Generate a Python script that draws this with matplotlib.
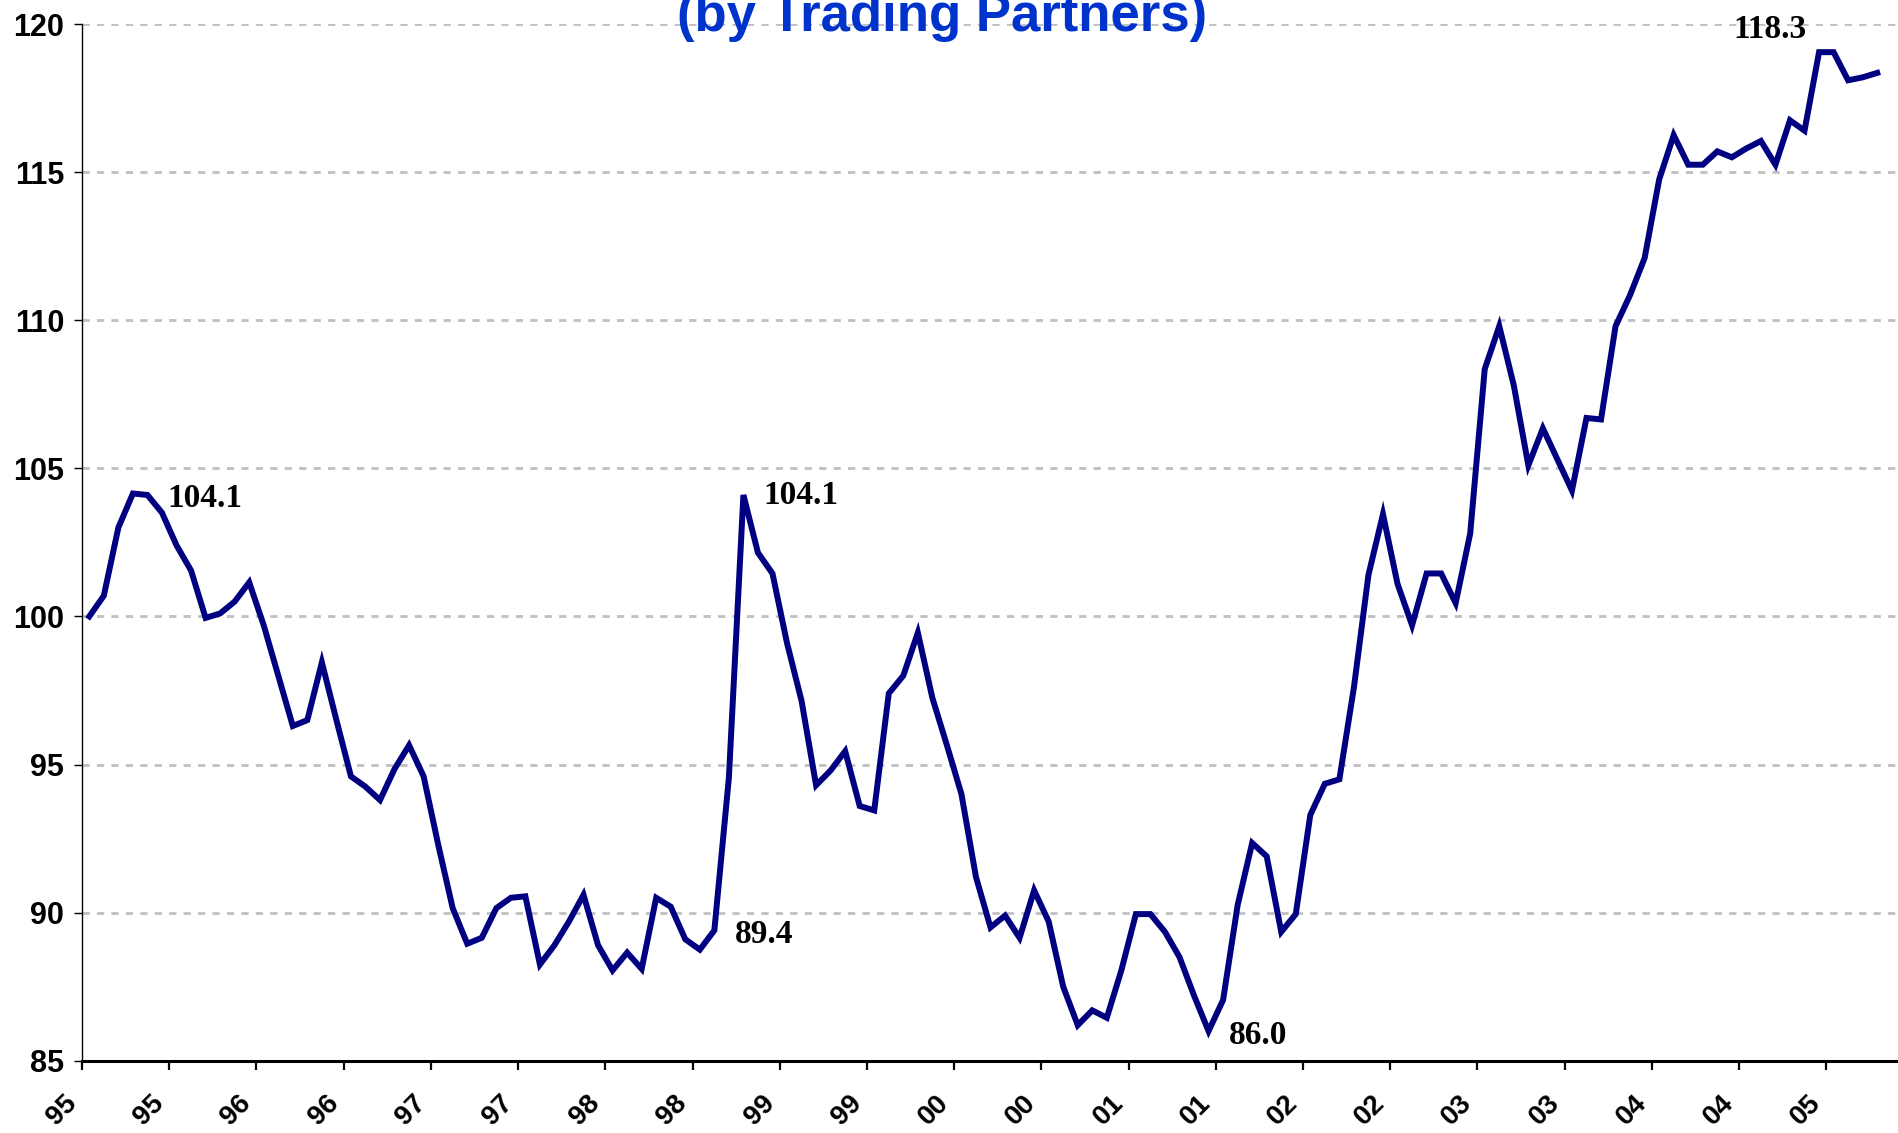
import numpy as np
import matplotlib.pyplot as plt

# monthly index values, Jan 1995 .. Apr 2005
values = [100.0, 100.7, 103.0, 104.15, 104.1, 103.5, 102.4, 101.55, 99.95, 100.1,
          100.5, 101.15, 99.7, 98.0, 96.3, 96.5, 98.45, 96.5, 94.6, 94.25,
          93.8, 94.85, 95.65, 94.6, 92.3, 90.15, 88.95, 89.15, 90.15, 90.5,
          90.55, 88.25, 88.9, 89.7, 90.6, 88.9, 88.05, 88.65, 88.1, 90.5,
          90.2, 89.1, 88.75, 89.4, 94.55, 104.1, 102.15, 101.45, 99.1, 97.15,
          94.3, 94.8, 95.45, 93.6, 93.45, 97.4, 98.0, 99.45, 97.25, 95.65,
          94.0, 91.2, 89.5, 89.9, 89.15, 90.75, 89.7, 87.5, 86.2, 86.7,
          86.45, 88.05, 89.95, 89.95, 89.35, 88.5, 87.2, 86.0, 87.05, 90.25,
          92.35, 91.9, 89.35, 89.95, 93.3, 94.35, 94.5, 97.6, 101.4, 103.45,
          101.1, 99.7, 101.45, 101.45, 100.45, 102.8, 108.35, 109.8, 107.8, 105.1,
          106.35, 105.3, 104.25, 106.7, 106.65, 109.8, 110.85, 112.1, 114.75, 116.25,
          115.25, 115.25, 115.7, 115.5, 115.8, 116.05, 115.25, 116.75, 116.4, 119.05,
          119.05, 118.1, 118.2, 118.35]

xlabels = ['95', '95', '96', '96', '97', '97', '98', '98', '99', '99', '00',
           '00', '01', '01', '02', '02', '03', '03', '04', '04', '05']

# annotated values and where they sit (category, value)
ann_text = ['104.1', '104.1', '89.4', '86.0', '118.3']
ann_x = [5.85, 46.87, 44.88, 78.93, 113.6]
ann_y = [103.70, 103.78, 88.99, 85.58, 119.52]

fig = plt.figure(figsize=(18.99, 11.33), dpi=100)
ax = fig.add_axes([0.0432, 0.0638, 0.9568, 0.9150])

x = np.arange(len(values)) + 0.5
ax.plot(x, values, color='#000080', lw=4.3, solid_joinstyle='miter', zorder=3)

ax.set_xlim(0, 125)
ax.set_ylim(85, 120)
ax.set_yticks(np.arange(85, 121, 5))
ax.yaxis.grid(True, color='#c0c0c0', lw=2.0, linestyle=(0, (2.6, 2.6)), zorder=1)
ax.set_axisbelow(True)

# tick marks at category boundaries, labels rotated
ax.set_xticks(np.arange(0, 121, 6))
ax.set_xticklabels(xlabels, rotation=45, ha='right', va='top',
                   fontsize=20, fontweight='bold', family='Liberation Sans')
ax.tick_params(axis='x', length=6.3, width=1.6, pad=15, direction='out')
ax.tick_params(axis='y', length=5.8, width=1.0, pad=7, direction='out')
for lab in ax.get_yticklabels():
    lab.set_fontsize(22)
    lab.set_fontweight('bold')
    lab.set_family('Liberation Sans')

ax.spines['top'].set_visible(False)
ax.spines['right'].set_visible(False)
ax.spines['bottom'].set_linewidth(2.2)
ax.spines['left'].set_linewidth(1.0)

for t, xx, yy in zip(ann_text, ann_x, ann_y):
    ax.text(xx, yy, t, fontsize=24, fontweight='bold', family='Liberation Serif',
            ha='left', va='baseline', zorder=4)

fig.text(0.496, 0.973, '(by Trading Partners)', color='#0033cc', fontsize=38,
         fontweight='bold', family='Liberation Sans', ha='center', va='baseline')

plt.savefig('out.png', dpi=100)
